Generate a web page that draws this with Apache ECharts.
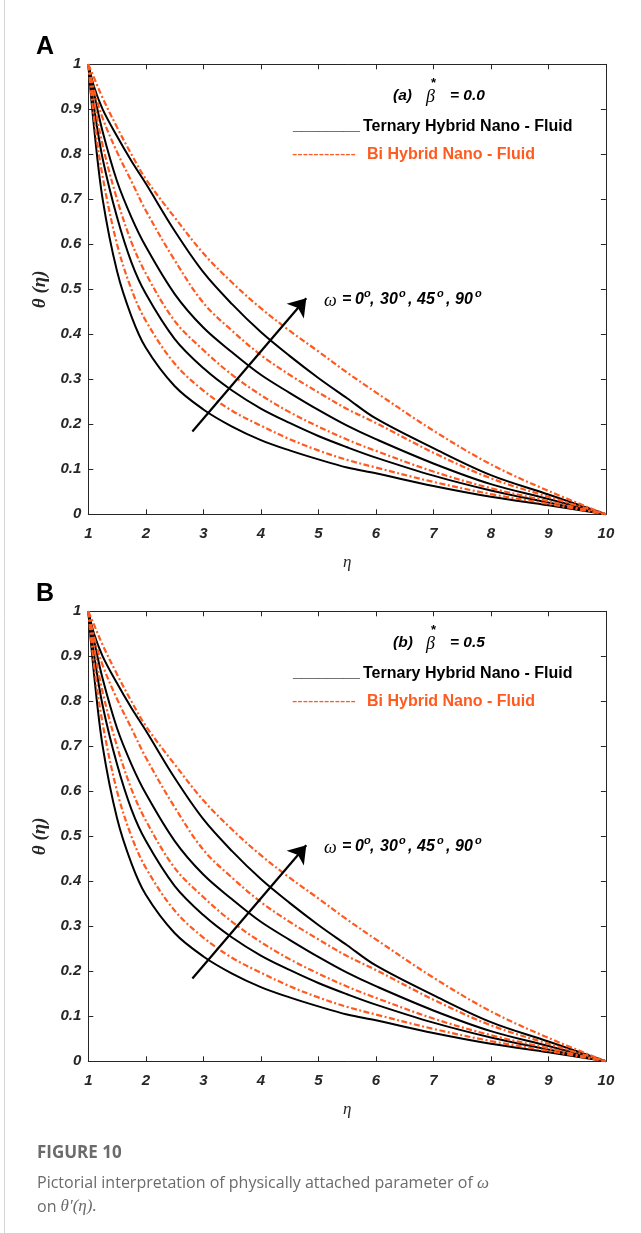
<!DOCTYPE html>
<html><head><meta charset="utf-8">
<script src="https://cdn.jsdelivr.net/npm/echarts@6/dist/echarts.min.js"></script>
<style>html,body{margin:0;padding:0;background:#fff}#c{width:641px;height:1233px}</style>
</head><body><div id="c"></div>
<script>
// eta grid
const eta = [1, 1.1, 1.25, 1.5, 1.75, 2, 2.5, 3, 3.5, 4, 4.5, 5, 5.5, 6, 7, 8, 9, 10];
// Ternary hybrid nano-fluid, omega = 0, 30, 45, 90 deg
const ternaryW0  = [1, 0.86, 0.70, 0.54, 0.44, 0.37, 0.285, 0.233, 0.195, 0.165, 0.142, 0.122, 0.104, 0.091, 0.063, 0.039, 0.020, 0];
const ternaryW30 = [1, 0.905, 0.79, 0.66, 0.56, 0.49, 0.39, 0.325, 0.275, 0.235, 0.203, 0.174, 0.149, 0.126, 0.086, 0.053, 0.026, 0];
const ternaryW45 = [1, 0.935, 0.85, 0.74, 0.66, 0.595, 0.49, 0.415, 0.36, 0.31, 0.27, 0.232, 0.197, 0.167, 0.113, 0.067, 0.034, 0];
const ternaryW90 = [1, 0.95, 0.90, 0.84, 0.785, 0.735, 0.63, 0.538, 0.467, 0.405, 0.352, 0.303, 0.258, 0.213, 0.147, 0.087, 0.044, 0];
// Bi hybrid nano-fluid, omega = 0, 30, 45, 90 deg
const biW0  = [1, 0.88, 0.75, 0.60, 0.50, 0.43, 0.335, 0.275, 0.23, 0.197, 0.167, 0.142, 0.121, 0.104, 0.072, 0.045, 0.023, 0];
const biW30 = [1, 0.92, 0.82, 0.70, 0.605, 0.535, 0.43, 0.365, 0.31, 0.265, 0.227, 0.195, 0.166, 0.141, 0.095, 0.058, 0.029, 0];
const biW45 = [1, 0.943, 0.88, 0.805, 0.74, 0.675, 0.565, 0.47, 0.408, 0.354, 0.31, 0.271, 0.234, 0.203, 0.137, 0.080, 0.039, 0];
const biW90 = [1, 0.97, 0.925, 0.86, 0.80, 0.745, 0.66, 0.58, 0.515, 0.458, 0.408, 0.362, 0.315, 0.271, 0.186, 0.111, 0.052, 0];

const ternaryCurves = [ternaryW0, ternaryW30, ternaryW45, ternaryW90];
const biCurves = [biW0, biW30, biW45, biW90];
const xTicks = [1,2,3,4,5,6,7,8,9,10];
const panels = [{label:'A', sub:'(a)', beta:'0.0'}, {label:'B', sub:'(b)', beta:'0.5'}];

const AX = '#262626';
const OR = '#FF5A1F';
const SANS = '"Liberation Sans", Arial, sans-serif';
const SERIF = '"Liberation Serif", "Times New Roman", serif';
const PLOT_L = 88.3, PLOT_W = 517.6, PLOT_H = 450;
const TOPS = [64.3, 611.3];

const grids = [], xAxes = [], yAxes = [], series = [], graphic = [];
const tickLabel = {fontFamily: SANS, fontWeight: 'bold', fontStyle: 'italic', fontSize: 15, color: AX};

function txt(x, y, text, font, fill) {
  graphic.push({type:'text', x:x, y:y, style:{text:text, font:font, fill:fill || '#000', verticalAlign:'middle'}});
}

TOPS.forEach((top, p) => {
  grids.push({left: PLOT_L, top: top, width: PLOT_W, height: PLOT_H});
  const base = {type:'value', gridIndex:p, min:1, max:10, interval:1,
    axisLine:{show:true, onZero:false, lineStyle:{color:AX, width:1}},
    axisTick:{show:true, inside:true, length:5, lineStyle:{color:AX}},
    splitLine:{show:false}};
  xAxes.push(Object.assign({}, base, {position:'bottom',
    axisLabel:{show:true, margin:12, ...tickLabel, formatter: v => xTicks.includes(v) ? String(v) : ''},
    name:'η', nameLocation:'middle', nameGap:40,
    nameTextStyle:{fontFamily:SERIF, fontStyle:'italic', fontSize:17, color:AX}}));
  xAxes.push(Object.assign({}, base, {position:'top', axisLabel:{show:false}}));
  const ybase = {type:'value', gridIndex:p, min:0, max:1, interval:0.1,
    axisLine:{show:true, onZero:false, lineStyle:{color:AX, width:1}},
    axisTick:{show:true, inside:true, length:5, lineStyle:{color:AX}},
    splitLine:{show:false}};
  yAxes.push(Object.assign({}, ybase, {position:'left',
    axisLabel:{show:true, margin:7, ...tickLabel, formatter: v => (v===0?'0':(Math.abs(v-1)<1e-9?'1':v.toFixed(1)))},
    name:'θ (η)', nameLocation:'middle', nameGap:27, nameRotate:90,
    nameTextStyle:{fontFamily:SERIF, fontStyle:'italic', fontWeight:'bold', fontSize:19, color:AX}}));
  yAxes.push(Object.assign({}, ybase, {position:'right', axisLabel:{show:false}}));

  const xi = p*2, yi = p*2;
  ternaryCurves.forEach((arr, k) => {
    const s = {type:'line', xAxisIndex:xi, yAxisIndex:yi, showSymbol:false, smooth:0.35,
      data: eta.map((e,i)=>[e, arr[i]]), lineStyle:{color:'#000', width:2}, z:3, silent:true};
    if (k === 0) {
      s.markLine = {silent:true, symbol:['none','arrow'], symbolSize:17, precision:4,
        lineStyle:{color:'#000', width:2.2, type:'solid'}, label:{show:false},
        data:[[{coord:[2.81, 0.184]}, {coord:[4.79, 0.48]}]]};
    }
    series.push(s);
  });
  biCurves.forEach(arr => {
    series.push({type:'line', xAxisIndex:xi, yAxisIndex:yi, showSymbol:false, smooth:0.35,
      data: eta.map((e,i)=>[e, arr[i]]), lineStyle:{color:OR, width:2.2, type:[6,2.5,2,2.5]}, z:4, silent:true});
  });

  const off = p*547;
  const P = panels[p];
  txt(36, 47+off, P.label, 'bold 25px '+SANS);
  txt(393, 96+off, P.sub, 'italic bold 15.5px '+SANS);
  txt(426, 97+off, 'β', 'italic 18px '+SERIF);
  txt(431, 83+off, '*', 'bold 13px '+SANS);
  txt(450, 96+off, '= '+P.beta, 'italic bold 15.5px '+SANS);
  txt(293, 126+off, '________', 'bold 15px '+SANS);
  txt(363, 127+off, 'Ternary Hybrid Nano - Fluid', 'bold 16px '+SANS);
  txt(292, 155+off, '------------', '16px '+SANS, OR);
  txt(367, 155+off, 'Bi Hybrid Nano - Fluid', 'bold 16px '+SANS, OR);
  // omega label
  const oy = 300+off, F = 'italic bold 16px '+SANS, S = 'italic bold 11px '+SANS;
  txt(324, oy+1, 'ω', 'italic 18px '+SERIF);
  txt(342, oy, '=', F);
  txt(355, oy, '0', F);
  txt(364, oy-6, 'o', S);
  txt(370, oy, ',', F);
  txt(380, oy, '30', F);
  txt(399, oy-6, 'o', S);
  txt(408, oy, ',', F);
  txt(417, oy, '45', F);
  txt(437, oy-6, 'o', S);
  txt(446, oy, ',', F);
  txt(455, oy, '90', F);
  txt(475, oy-6, 'o', S);
});

graphic.push({type:'line', shape:{x1:4.5, y1:0, x2:4.5, y2:1233}, style:{stroke:'#d4d4d4', lineWidth:1}});
const CAP = '"Open Sans", sans-serif';
txt(37, 1153, 'FIGURE 10', 'bold 17px '+CAP, '#6b6b6b');
const line1 = 'Pictorial interpretation of physically attached parameter of ';
txt(37, 1183, line1, '16px '+CAP, '#6b6b6b');
txt(37, 1207, 'on ', '16px '+CAP, '#6b6b6b');
const ctx = document.createElement('canvas').getContext('2d');
ctx.font = '16px ' + CAP;
const w1 = ctx.measureText(line1).width;
const w2 = ctx.measureText('on ').width;
txt(37+w1, 1184, 'ω', 'italic 17px '+SERIF, '#6b6b6b');
txt(37+w2, 1207, 'θ′(η).', 'italic 17px '+SERIF, '#6b6b6b');

const chart = echarts.init(document.getElementById('c'), null, {renderer:'canvas'});
chart.setOption({animation:false, backgroundColor:'#fff', grid:grids, xAxis:xAxes, yAxis:yAxes, series:series, graphic:graphic});
</script></body></html>
